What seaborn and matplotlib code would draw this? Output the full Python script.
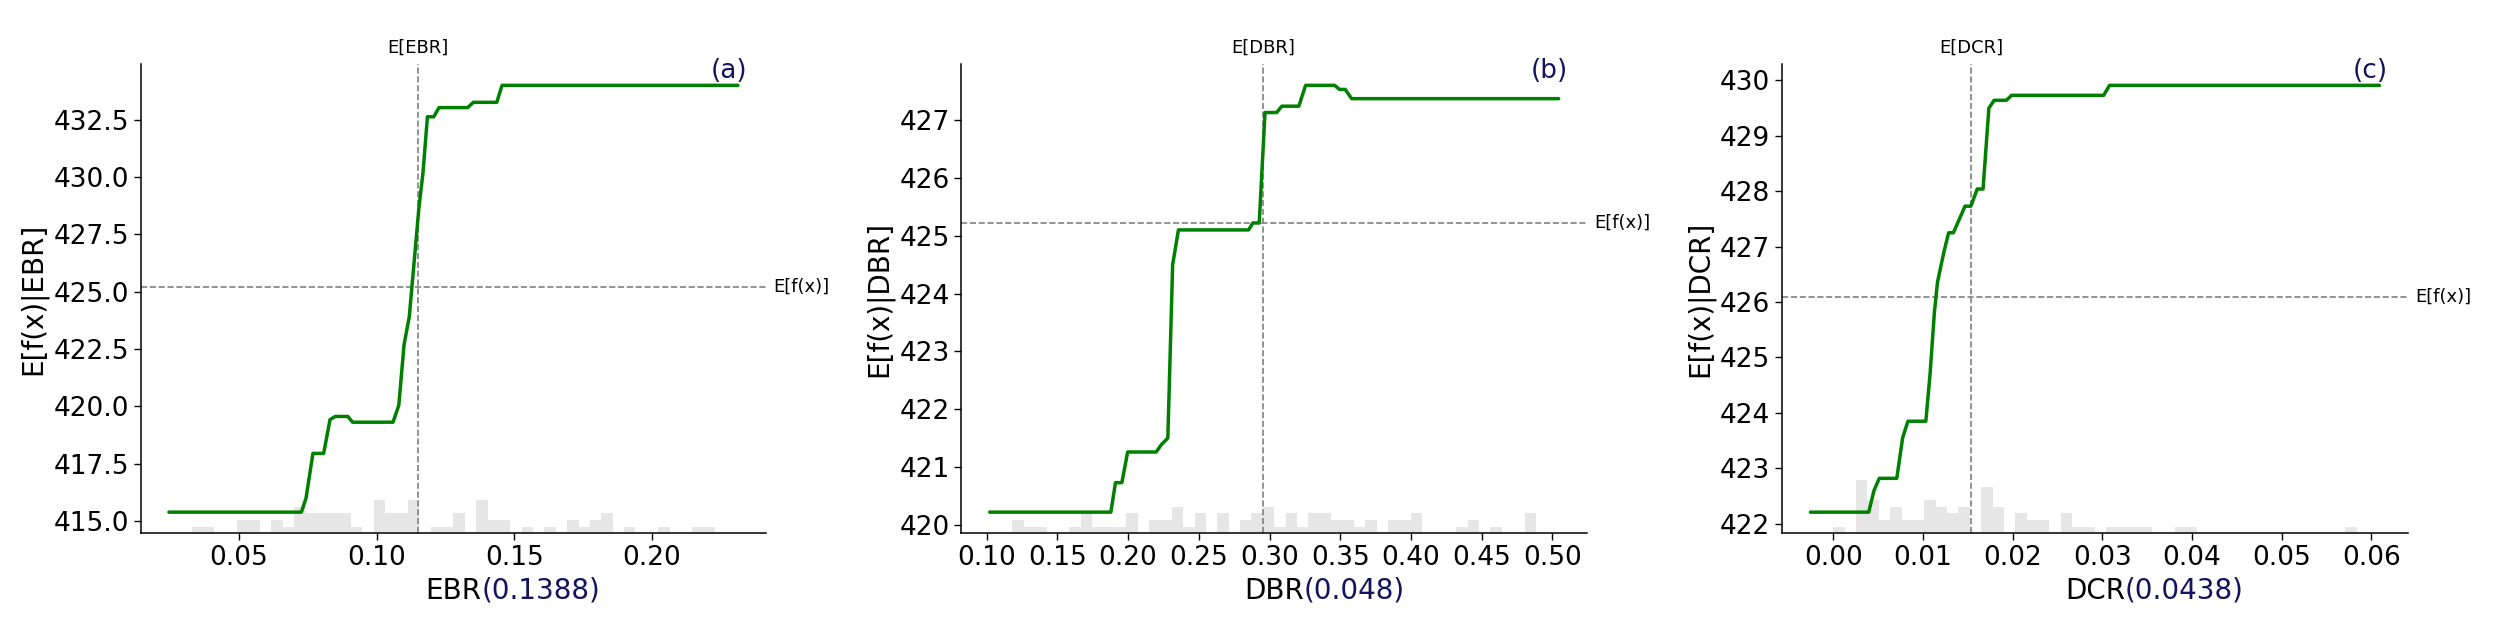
"""
Partial dependence plots for EBR, DBR and DCR (three panels, SHAP style)
"""

import numpy as np
import matplotlib
matplotlib.use("Agg")
import matplotlib.pyplot as plt
import seaborn as sns
from matplotlib.ticker import MultipleLocator

sns.set_theme(style="ticks", rc={
    "axes.edgecolor": "black", "text.color": "black", "axes.labelcolor": "black",
    "xtick.color": "black", "ytick.color": "black",
})
plt.rcParams['font.family'] = ['DejaVu Sans']

# ---- panel (a): EBR ----
ebr_x = [0.0246, 0.0727, 0.0744, 0.0769, 0.0808, 0.0831, 0.0850, 0.0896, 0.0913, 0.1060,
         0.1081, 0.1100, 0.1119, 0.1154, 0.1169, 0.1185, 0.1208, 0.1227, 0.1331, 0.1352,
         0.1437, 0.1456, 0.2313]
ebr_y = [415.39, 415.39, 416.0, 417.95, 417.95, 419.42, 419.56, 419.56, 419.31, 419.31,
         420.05, 422.68, 423.9, 428.64, 430.2, 432.62, 432.62, 433.02, 433.02, 433.25,
         433.25, 433.99, 433.99]
ebr_hist = [0, 0, 1, 1, 0, 0, 2, 2, 0, 2, 1, 4, 3, 3, 3, 3, 1, 0, 5, 3,
            3, 5, 0, 1, 1, 3, 0, 5, 2, 2, 0, 1, 0, 1, 0, 2, 1, 2, 3, 0,
            1, 0, 0, 1, 0, 0, 1, 1, 0, 0]
ebr_mean = 0.115
ebr_fx = 425.2

# ---- panel (b): DBR ----
dbr_x = [0.1022, 0.1878, 0.1911, 0.1956, 0.1997, 0.2199, 0.2236, 0.2281, 0.2315, 0.2356,
         0.2852, 0.2882, 0.2927, 0.2968, 0.3050, 0.3087, 0.3207, 0.3255, 0.3460, 0.3494,
         0.3535, 0.3580, 0.5044]
dbr_y = [420.22, 420.22, 420.73, 420.73, 421.26, 421.26, 421.39, 421.50, 424.5, 425.10,
         425.10, 425.22, 425.22, 427.13, 427.13, 427.24, 427.24, 427.60, 427.60, 427.53,
         427.53, 427.37, 427.37]
dbr_hist = [0, 0, 2, 1, 1, 0, 0, 1, 3, 1, 1, 1, 3, 0, 2, 2, 4, 1, 3, 0,
            3, 0, 2, 3, 4, 1, 3, 1, 3, 3, 2, 2, 1, 2, 0, 2, 2, 3, 0, 0,
            0, 1, 2, 0, 1, 0, 0, 3, 0, 0]
dbr_mean = 0.2953
dbr_fx = 425.22

# ---- panel (c): DCR ----
dcr_x = [-0.00254, 0.00395, 0.00454, 0.00513, 0.00708, 0.00773, 0.00832, 0.01032, 0.0108,
         0.01127, 0.01162, 0.01233, 0.01286, 0.01339, 0.01469, 0.01534, 0.01605, 0.0167,
         0.01735, 0.01794, 0.01929, 0.01988, 0.03015, 0.0308, 0.0609]
dcr_y = [422.21, 422.21, 422.60, 422.82, 422.82, 423.55, 423.85, 423.85, 424.72,
         425.81, 426.36, 426.90, 427.25, 427.25, 427.73, 427.73, 428.04, 428.04,
         429.50, 429.64, 429.64, 429.73, 429.73, 429.91, 429.91]
dcr_hist = [0, 0, 1, 0, 8, 5, 2, 4, 2, 2, 5, 4, 3, 4, 0, 7, 4, 0, 3, 2,
            2, 0, 3, 1, 1, 0, 1, 1, 1, 1, 0, 0, 1, 1, 0, 0, 0, 0, 0, 0,
            0, 0, 0, 0, 0, 0, 0, 1, 0, 0]
dcr_mean = 0.01534
dcr_fx = 426.10

panels = [
    ("EBR", "(0.1388)", "(a)", ebr_x, ebr_y, ebr_hist, ebr_mean, ebr_fx, 0.05, 2.5),
    ("DBR", "(0.048)", "(b)", dbr_x, dbr_y, dbr_hist, dbr_mean, dbr_fx, 0.05, 1),
    ("DCR", "(0.0438)", "(c)", dcr_x, dcr_y, dcr_hist, dcr_mean, dcr_fx, 0.01, 1),
]

navy = "#14145e"
fig, axes = plt.subplots(1, 3, figsize=(24.96, 6.3), dpi=100)
plt.subplots_adjust(left=0.0563, right=0.9647, bottom=0.1532, top=0.8984, wspace=0.3115)

for ax, (name, imp, tag, xs, ys, counts, xmean, fxmean, xstep, ystep) in zip(axes, panels):
    # histogram of feature values on a twin axis, kept behind the curve
    ax2 = ax.twinx()
    edges = np.linspace(xs[0], xs[-1], len(counts) + 1)
    ax2.bar(edges[:-1], counts, width=np.diff(edges), align='edge',
            color='#e6e6e6', linewidth=0)
    ax2.set_ylim(0, sum(counts))
    ax2.set_yticks([])
    for s in ax2.spines.values():
        s.set_visible(False)
    ax.set_zorder(ax2.get_zorder() + 1)
    ax.patch.set_visible(False)

    ax.axvline(xmean, color='#808080', linestyle='--', linewidth=1.2, zorder=1)
    ax.axhline(fxmean, color='#808080', linestyle='--', linewidth=1.2, zorder=1)
    sns.lineplot(x=xs, y=ys, ax=ax, color='green', linewidth=2.5, estimator=None, zorder=3)

    ax.xaxis.set_major_locator(MultipleLocator(xstep))
    ax.yaxis.set_major_locator(MultipleLocator(ystep))
    ax.tick_params(labelsize=19, width=1, length=5)
    ax.set_xlabel(name, fontsize=20)
    ax.set_ylabel(f"E[f(x)|{name}]", fontsize=20)
    ax.annotate(imp, xy=(1, 0), xycoords=ax.xaxis.label, ha='left', va='bottom',
                fontsize=20, color=navy)
    ax.annotate(f"E[{name}]", xy=(xmean, 1), xycoords=ax.get_xaxis_transform(),
                xytext=(0, 5), textcoords='offset points', ha='center', va='bottom',
                fontsize=13)
    ax.annotate("E[f(x)]", xy=(1, fxmean), xycoords=ax.get_yaxis_transform(),
                xytext=(5, 0), textcoords='offset points', ha='left', va='center',
                fontsize=13)
    ax.text(0.94, 0.985, tag, transform=ax.transAxes, ha='center', va='center',
            fontsize=19, color=navy)
    sns.despine(ax=ax)
    for s in ("left", "bottom"):
        ax.spines[s].set_linewidth(1.1)

fig.savefig("out.png", dpi=100)
print("Saved: out.png")
